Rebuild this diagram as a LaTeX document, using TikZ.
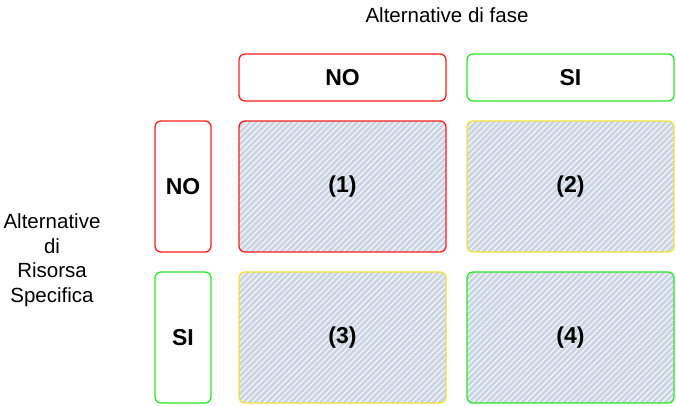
\documentclass[tikz,border=0pt]{standalone}
\usepackage{fontspec}
\setmainfont{Liberation Sans}
\usetikzlibrary{patterns.meta}
\definecolor{cred}{RGB}{250,30,30}
\definecolor{cgreen}{RGB}{40,230,40}
\definecolor{cyellow}{RGB}{240,225,60}
\definecolor{cfill}{RGB}{203,213,227}
\tikzset{
  hdr/.style={draw, line width=1.3pt, rounded corners=6pt, fill=white, inner sep=0pt,
    font=\fontsize{23}{27}\selectfont\bfseries},
  cell/.style={draw, line width=1.3pt, rounded corners=6pt, inner sep=0pt,
    preaction={fill=cfill},
    preaction={pattern={Lines[angle=45,distance=4.2pt,line width=1pt]}, pattern color=white, opacity=0.9},
    font=\fontsize{23}{27}\selectfont\bfseries},
  lbl/.style={font=\fontsize{20.5}{24.5}\selectfont, align=center, inner sep=0pt}
}
\begin{document}
\begin{tikzpicture}[x=1pt,y=-1pt]
\useasboundingbox (0,0) rectangle (676,405);
\node[lbl] (title) at (447,15) {Alternative di fase};
\node[lbl] (side) at (52,260) {Alternative\\di\\Risorsa\\Specifica};
\node[hdr, draw=cred, minimum width=207pt, minimum height=47pt] (hno) at (342.5,77.5) {NO};
\node[hdr, draw=cgreen, minimum width=207pt, minimum height=47pt] (hsi) at (570.5,77.5) {SI};
\node[hdr, draw=cred, minimum width=56pt, minimum height=131pt] (vno) at (183,186.5) {NO};
\node[hdr, draw=cgreen, minimum width=56pt, minimum height=131pt] (vsi) at (183,337.5) {SI};
\node[cell, draw=cred, minimum width=207pt, minimum height=131pt] (c1) at (342.5,186.5) {(1)};
\node[cell, draw=cyellow, minimum width=207pt, minimum height=131pt] (c2) at (570.5,186.5) {(2)};
\node[cell, draw=cyellow, minimum width=207pt, minimum height=131pt] (c3) at (342.5,337.5) {(3)};
\node[cell, draw=cgreen, minimum width=207pt, minimum height=131pt] (c4) at (570.5,337.5) {(4)};
\end{tikzpicture}
\end{document}
